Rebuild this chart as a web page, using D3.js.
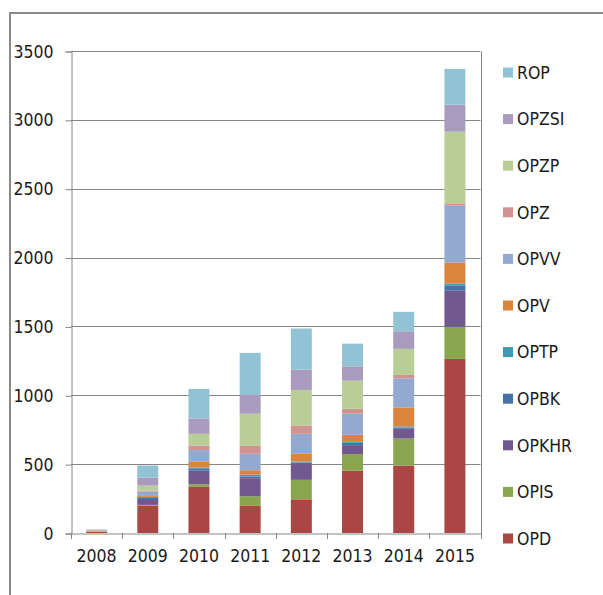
<!DOCTYPE html>
<html>
<head>
<meta charset="utf-8">
<script src="https://cdn.jsdelivr.net/npm/d3@7"></script>
<style>
  html, body { margin: 0; padding: 0; background: #fff; }
  svg { display: block; }
  text { font-family: "DejaVu Sans Condensed", "DejaVu Sans", Verdana, sans-serif; font-stretch: condensed; fill: #1a1a1a; }
</style>
</head>
<body>
<svg id="chart" width="603" height="595"></svg>
<script>
// ---- data ----
const years = ["2008", "2009", "2010", "2011", "2012", "2013", "2014", "2015"];
const OPD   = [8, 197, 335, 197, 240, 453, 490, 1264];
const OPIS  = [0, 7, 19, 70, 146, 120, 196, 233];
const OPKHR = [0, 43, 99, 131, 114, 65, 71, 262];
const OPBK  = [0, 8, 13, 12, 12, 17, 9, 36];
const OPTP  = [0, 7, 9, 14, 7, 7, 8, 17];
const OPV   = [0, 7, 42, 32, 56, 51, 138, 153];
const OPVV  = [5, 32, 85, 119, 145, 153, 211, 415];
const OPZ   = [6, 7, 33, 58, 61, 36, 25, 9];
const OPZP  = [0, 36, 85, 233, 258, 204, 189, 525];
const OPZSI = [0, 59, 112, 136, 147, 104, 128, 196];
const ROP   = [7, 87, 214, 306, 299, 165, 141, 260];
const seriesNames = ["OPD", "OPIS", "OPKHR", "OPBK", "OPTP", "OPV", "OPVV", "OPZ", "OPZP", "OPZSI", "ROP"];
const seriesValues = [OPD, OPIS, OPKHR, OPBK, OPTP, OPV, OPVV, OPZ, OPZP, OPZSI, ROP];
const seriesColors = ["#AA4643", "#89A54E", "#71588F", "#4572A7", "#4198AF", "#DB843D",
                      "#93A9CF", "#D19392", "#B9CD96", "#A99BBD", "#92C3D5"];
const yTicks = [0, 500, 1000, 1500, 2000, 2500, 3000, 3500];

(function () {
  const FONT = "DejaVu Sans Condensed, DejaVu Sans, sans-serif";
  const FS = 17.5;
  // ---- build table ----
  const table = years.map((yr, i) => {
    const row = { year: yr };
    seriesNames.forEach((s, k) => row[s] = seriesValues[k][i]);
    return row;
  });
  const stacked = d3.stack().keys(seriesNames)(table);

  const svg = d3.select("#chart");

  // outer frame (partial, like the cropped screenshot)
  svg.append("path")
    .attr("d", "M10,595 L10,13 L603,13")
    .attr("fill", "none").attr("stroke", "#8a8a8a").attr("stroke-width", 2);

  const pLeft = 71, pRight = 480.5, pTop = 51, pBottom = 533;
  const x = d3.scaleBand().domain(years).range([pLeft, pRight]).padding(0);
  const y = d3.scaleLinear().domain([0, 3500]).range([pBottom, pTop]);

  // gridlines
  svg.append("g").selectAll("line").data(yTicks.slice(1)).join("line")
    .attr("x1", pLeft).attr("x2", pRight)
    .attr("y1", d => Math.round(y(d)) + 0.5).attr("y2", d => Math.round(y(d)) + 0.5)
    .attr("stroke", "#868686").attr("stroke-width", 1);
  // right border of plot area
  svg.append("line")
    .attr("x1", Math.round(pRight) + 0.5).attr("x2", Math.round(pRight) + 0.5)
    .attr("y1", Math.round(y(3500)) + 0.5).attr("y2", Math.round(pBottom) + 0.5)
    .attr("stroke", "#868686");

  // bars
  const bw = x.bandwidth();
  svg.append("g").selectAll("g").data(stacked).join("g")
    .attr("fill", (d, i) => seriesColors[i])
    .selectAll("rect").data(d => d).join("rect")
    .attr("x", d => x(d.data.year) + bw * 0.295)
    .attr("width", bw * 0.41)
    .attr("y", d => y(d[1]))
    .attr("height", d => Math.max(0, y(d[0]) - y(d[1])));

  // y axis
  const yAxis = d3.axisLeft(y).tickValues(yTicks).tickSize(6).tickPadding(12).tickFormat(d3.format("d"));
  const gy = svg.append("g").attr("transform", `translate(${pLeft + 0.5},0.5)`).call(yAxis);
  gy.select(".domain").attr("stroke", "#868686");
  gy.selectAll(".tick line").attr("stroke", "#868686");
  gy.selectAll("text").attr("font-size", FS).attr("font-family", FONT).attr("fill", "#1a1a1a");

  // x axis
  const xAxis = d3.axisBottom(x).tickSize(0).tickPadding(16.5);
  const gx = svg.append("g").attr("transform", `translate(0,${pBottom + 0.5})`).call(xAxis);
  gx.select(".domain").attr("stroke", "#868686");
  gx.selectAll("text").attr("font-size", FS).attr("font-family", FONT).attr("fill", "#1a1a1a");
  // category boundary ticks
  svg.append("g").selectAll("line").data(years.concat(["end"])).join("line")
    .attr("x1", (d, i) => Math.round(pLeft + i * x.step()) + 0.5)
    .attr("x2", (d, i) => Math.round(pLeft + i * x.step()) + 0.5)
    .attr("y1", pBottom).attr("y2", pBottom + 6)
    .attr("stroke", "#868686");

  // legend (reverse order, top = ROP)
  const legendNames = seriesNames.slice().reverse();
  const legendColors = seriesColors.slice().reverse();
  const lg = svg.append("g");
  legendNames.forEach((n, i) => {
    const cy = 72.5 + i * 46.6;
    lg.append("rect").attr("x", 503).attr("y", cy - 5).attr("width", 10).attr("height", 10)
      .attr("fill", legendColors[i]);
    lg.append("text").attr("x", 517).attr("y", cy).attr("dy", "0.36em")
      .attr("font-size", FS).attr("font-family", FONT).text(n);
  });
})();
</script>
</body>
</html>
